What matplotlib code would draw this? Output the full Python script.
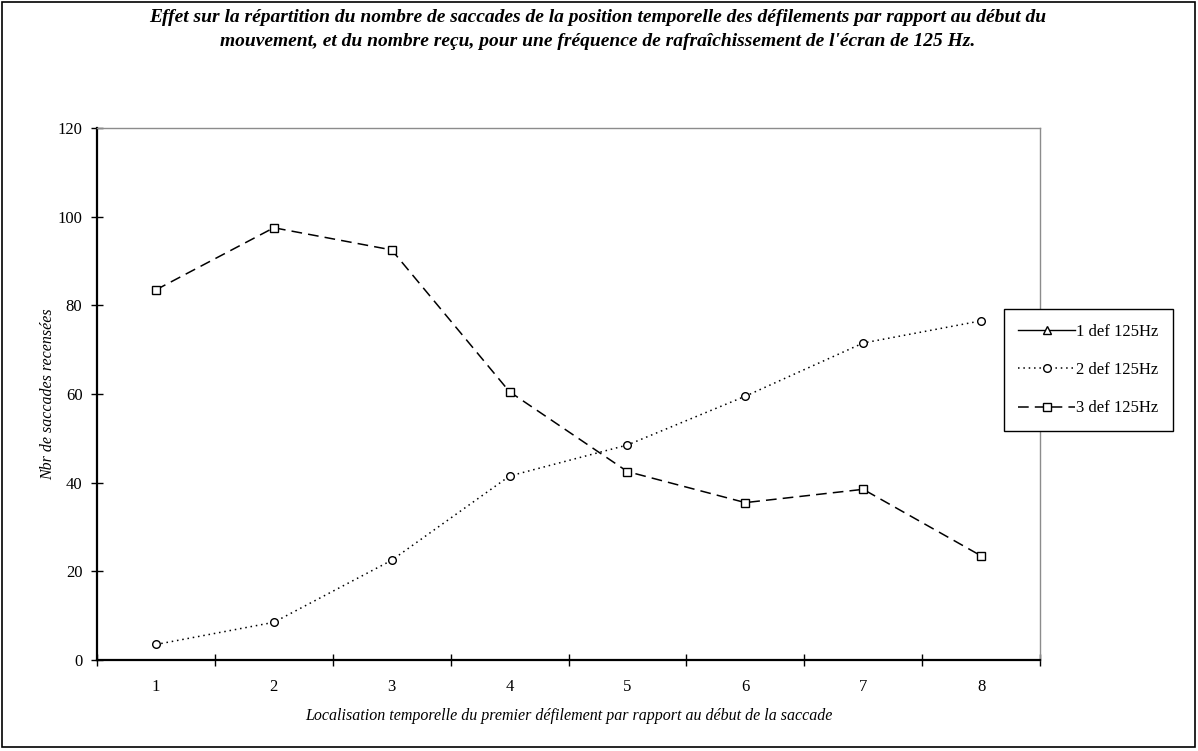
import numpy as np
import matplotlib
matplotlib.use("Agg")
import matplotlib.pyplot as plt
from matplotlib.patches import Rectangle

plt.rcParams['font.family'] = ['Liberation Serif', 'DejaVu Serif']

# data
categories = ['1', '2', '3', '4', '5', '6', '7', '8']
serie_1def = [np.nan] * 8   # present in legend only
serie_2def = [3.5, 8.5, 22.5, 41.5, 48.5, 59.5, 71.5, 76.5]
serie_3def = [83.5, 97.5, 92.5, 60.5, 42.5, 35.5, 38.5, 23.5]
labels = ['1 def 125Hz', '2 def 125Hz', '3 def 125Hz']

title = ("Effet sur la répartition du nombre de saccades de la position temporelle des défilements par rapport au début du\n"
         "mouvement, et du nombre reçu, pour une fréquence de rafraîchissement de l'écran de 125 Hz.")

fig = plt.figure(figsize=(11.98, 7.51), dpi=100)
ax = fig.add_axes([97/1198, 91/751, (1040-97)/1198, (660-128)/751])

x = np.arange(1, len(categories) + 1)
ax.plot(x, serie_1def, color='black', lw=1, marker='^', ms=5.5, mfc='white', mec='black', label=labels[0])
ax.plot(x, serie_2def, color='black', lw=1.1, linestyle=(0, (1, 2.5)), marker='o', ms=5.5,
        mfc='white', mec='black', mew=1, label=labels[1])
ax.plot(x, serie_3def, color='black', lw=1.1, linestyle=(0, (7, 4)), marker='s', ms=5.5,
        mfc='white', mec='black', mew=1, label=labels[2])

ax.set_xlim(0.5, len(categories) + 0.5)
ax.set_ylim(0, 120)
ax.set_yticks(range(0, 121, 20))

# category axis: tick marks between categories, labels at centers
ax.set_xticks(np.arange(0.5, len(categories) + 1, 1))
ax.set_xticklabels([])
ax.set_xticks(x, minor=True)
ax.set_xticklabels(categories, minor=True)
ax.tick_params(axis='x', which='major', direction='inout', length=9, width=1, colors='black')
ax.tick_params(axis='x', which='minor', length=0, pad=14, labelsize=12)
ax.tick_params(axis='y', direction='inout', length=9, width=1, pad=6, labelsize=12)

for side in ['left', 'bottom']:
    ax.spines[side].set_linewidth(1.6)
    ax.spines[side].set_color('black')
for side in ['top', 'right']:
    ax.spines[side].set_linewidth(1)
    ax.spines[side].set_color('#8c8c8c')

ax.set_xlabel("Localisation temporelle du premier défilement par rapport au début de la saccade",
              fontstyle='italic', fontsize=11.5, labelpad=9)
ax.set_ylabel("Nbr de saccades recensées", fontstyle='italic', fontsize=11.5, labelpad=1)

fig.text(0.499, 0.988, title, ha='center', va='top', fontsize=14, fontweight='bold',
         fontstyle='italic', linespacing=1.55)

leg = fig.legend(loc='center left', bbox_to_anchor=(1004/1198, 1 - 370/751), fontsize=12,
                 frameon=True, fancybox=False, edgecolor='black', framealpha=1,
                 labelspacing=1.35, handlelength=3.4, handletextpad=0.1, borderpad=0.85,
                 borderaxespad=0)
leg.get_frame().set_linewidth(1)

# outer frame of the chart
fig.patches.append(Rectangle((2/1198, 4/751), 1193/1198, 745/751, transform=fig.transFigure,
                             fill=False, edgecolor='black', lw=1.2))

fig.savefig('out.png', dpi=100)
